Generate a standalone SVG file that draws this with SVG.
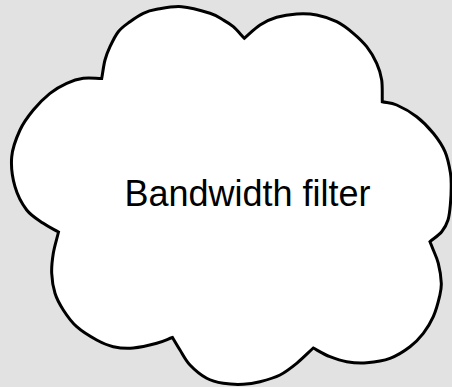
<svg xmlns="http://www.w3.org/2000/svg" width="452" height="387" viewBox="0 0 452 387">
<style>
.bg{fill:#e2e2e2}
.cloud{fill:#ffffff;stroke:#000000;stroke-width:3;stroke-linejoin:miter;stroke-miterlimit:10}
.lbl{font-family:"Liberation Sans",Arial,sans-serif;font-size:36px;fill:#000000}
</style>
<rect class="bg" x="0" y="0" width="452" height="387"/>
<g id="connectors"></g>
<g id="bandwidth-filter">
<path class="cloud" d="M58.5,232 C53.4,229.1 48.6,227 43.3,223.3 S31.4,216.1 26.7,210 S17.5,195.5 15,186.7 S10.9,166.5 11.7,157 S16.4,137.8 20,130 S28.3,116.1 33.3,110 S44.4,97.75 50,93.3 S61.15,85.8 66.7,83.3 S77.5,79.1 83.3,78.3 S95.6,78.4 101.7,78.5 C102.8,72.3 103.6,65.3 105,60 S107.8,51.4 110,46.7 S115,35.9 118.3,31.7 S125.8,24.8 130,21.7 S138.85,15.4 143.3,13.3 S150.3,10.4 156.7,9.3 S172.8,6 181.7,6.7 S203.1,11.1 210,13.3 S219.4,17.8 223.3,20 S229.8,23.65 233.3,26.7 S240.6,34.4 244.3,38.3 C249.5,33.9 254.6,28.5 260,25 S270.6,19.1 276.7,17.3 S290,14.4 296.7,14 S310,13.7 316.7,15 S330.6,18.65 336.7,21.7 S348.3,29.1 353.3,33.3 S362.8,41.7 366.7,46.7 S374.2,57.75 376.7,63.3 S380.8,73.6 381.7,80 S382.1,94.5 382.3,101.7 C387.1,102.8 391,102.5 396.7,105 S410.6,112 416.7,116.7 S428.6,127.5 433.3,133.3 S442.1,145 445,151.7 S449.5,167.25 450.5,173.3 S451.2,183.05 451.2,188 S451,197.7 450.5,203 S449.5,215.2 448,220 S444.7,228.1 441.7,231.7 S433.9,238.4 430,241.7 C431.1,244.5 431.9,246.4 433.3,250 S436.9,257.75 438.3,263.3 S441.1,277.7 441.3,283.3 S440.8,291.1 439.5,296.7 S436,310.6 433.3,316.7 S427.2,328.3 423.3,333.3 S415.55,342.5 410,346.7 S397.2,355.6 390,358.3 S373.9,362.1 366.7,362.7 S352.8,362.7 346.7,361.7 S335.6,358.9 330,356.7 S318.9,351.1 313.3,348 C307.8,353.1 302.25,358.8 296.7,363.3 S286.1,371.9 280,375 S266.1,380.15 260,381.7 S249.4,384 243.3,384.3 S229.4,384.3 223.3,383.3 S212.25,381.35 206.7,378.3 S194.45,369.7 190,365 S182.9,354.6 180,350 S175,341.7 172.5,337.5 C167.2,339.4 163.2,341.55 156.7,343.3 S140.5,347.4 133.3,348 S119.4,348 113.3,346.7 S102.8,343.3 96.7,340 S82.3,331.7 76.7,326.7 S66.9,315.6 63.3,310 S56.9,299.4 55,293.3 S52,280 51.7,273.3 S52.2,260.2 53.3,253.3 S56.8,239.1 58.5,232 Z"/>
<text class="lbl" x="247.5" y="206" text-anchor="middle">Bandwidth filter</text>
</g>
</svg>
